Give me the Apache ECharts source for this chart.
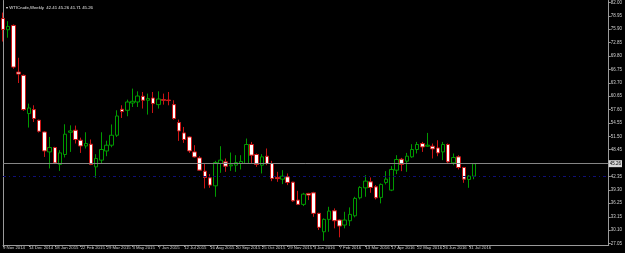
<!DOCTYPE html>
<html>
<head>
<meta charset="utf-8">
<script src="https://cdn.jsdelivr.net/npm/echarts@6/dist/echarts.min.js"></script>
<style>
  html, body { margin: 0; padding: 0; background: #000; }
  #chart { width: 625px; height: 253px; }
</style>
</head>
<body>
<div id="chart"></div>
<script>
// weekly bars, first one is the week of 9 Nov 2014
const opens = [78.36, 75.79, 76.77, 66.14, 65.39, 56.68, 57.58, 55.16, 52.49, 47.94,
  48.94, 45.08, 47.35, 52.42, 52.88, 50.60, 49.30, 49.70, 44.53, 46.06,
  48.15, 49.47, 51.74, 57.66, 57.43, 59.09, 59.32, 60.62, 59.71, 60.23,
  58.72, 59.86, 59.77, 58.72, 54.63, 52.27, 51.35, 47.94, 46.58, 43.55,
  42.03, 40.21, 45.30, 45.67, 44.76, 44.92, 45.30, 45.30, 49.63, 47.35,
  44.92, 46.96, 45.30, 42.12, 41.73, 42.26, 41.05, 36.96, 35.98, 38.48,
  38.61, 33.93, 29.74, 32.56, 34.52, 32.41, 31.27, 32.25, 33.38, 37.48,
  39.75, 41.12, 39.98, 37.57, 40.98, 39.23, 43.78, 46.28, 45.83, 46.81,
  48.49, 49.85, 49.24, 49.24, 48.85, 47.94, 49.63, 45.44, 46.81, 44.39,
  41.66, 42.41];
const closes = [75.86, 76.54, 67.28, 65.69, 57.58, 57.95, 55.54, 52.65, 48.17, 48.94,
  45.44, 47.72, 51.97, 52.72, 50.77, 49.30, 49.85, 45.08, 46.44, 48.49,
  49.47, 51.74, 56.13, 57.13, 59.32, 59.48, 60.68, 59.71, 60.09, 58.95,
  60.00, 59.71, 59.64, 55.54, 52.72, 50.77, 48.17, 46.80, 43.78, 42.12,
  40.37, 45.53, 46.06, 44.69, 44.99, 45.53, 45.76, 49.63, 47.19, 45.08,
  46.81, 45.30, 41.89, 41.85, 42.41, 40.98, 36.79, 35.98, 38.32, 38.09,
  33.93, 30.75, 32.56, 34.45, 32.25, 31.04, 32.41, 33.70, 37.34, 39.84,
  41.28, 39.84, 37.48, 40.53, 41.73, 43.94, 46.21, 45.08, 46.96, 48.49,
  49.63, 49.08, 49.47, 48.63, 47.72, 49.63, 45.67, 46.67, 44.39, 41.73,
  42.41, 45.26];
const lows = [73.10, 73.97, 66.90, 63.64, 57.30, 53.49, 54.77, 52.36, 46.80, 44.17,
  45.30, 43.62, 46.67, 47.94, 49.86, 47.71, 48.72, 44.92, 42.03, 45.30,
  46.96, 49.00, 51.35, 55.68, 56.07, 58.18, 58.18, 57.82, 56.45, 56.81,
  57.82, 58.72, 58.57, 55.31, 50.45, 50.00, 47.71, 46.67, 43.62, 39.62,
  39.75, 37.71, 43.17, 43.40, 43.62, 43.40, 43.94, 45.20, 45.30, 44.53,
  43.03, 44.92, 41.27, 41.12, 40.60, 40.37, 36.57, 35.82, 35.59, 36.96,
  33.15, 30.13, 27.70, 29.74, 30.52, 28.47, 30.52, 31.04, 33.02, 37.11,
  37.71, 38.61, 37.11, 36.21, 40.53, 39.00, 42.87, 43.55, 43.40, 46.58,
  47.58, 47.94, 49.08, 46.44, 46.96, 46.06, 45.44, 44.92, 43.94, 40.89,
  39.75, 41.71];
const highs = [79.70, 77.75, 77.00, 69.40, 65.60, 58.95, 58.57, 55.30, 52.65, 51.35,
  49.10, 48.33, 54.24, 54.00, 53.95, 51.20, 52.42, 50.77, 47.42, 52.42,
  50.49, 54.20, 57.43, 58.57, 59.86, 62.37, 61.75, 61.60, 61.23, 61.60,
  61.75, 61.23, 61.60, 59.70, 55.31, 53.63, 51.50, 49.47, 46.96, 45.30,
  42.87, 45.90, 49.24, 46.44, 47.80, 47.19, 47.19, 50.99, 50.22, 47.58,
  47.42, 48.72, 45.90, 43.40, 43.78, 43.03, 41.12, 39.07, 38.61, 38.61,
  38.84, 34.06, 32.79, 35.43, 35.07, 32.56, 34.29, 35.29, 37.71, 40.14,
  42.64, 42.12, 40.37, 40.76, 43.55, 44.69, 47.19, 46.58, 47.71, 49.70,
  50.22, 50.22, 52.27, 49.85, 50.60, 50.22, 49.85, 47.58, 47.19, 44.53,
  42.64, 45.26];

const dateLabels = ['9 Nov 2014', '14 Dec 2014', '18 Jan 2015', '22 Feb 2015', '29 Mar 2015',
  '3 May 2015', '7 Jun 2015', '12 Jul 2015', '16 Aug 2015', '20 Sep 2015', '25 Oct 2015',
  '29 Nov 2015', '3 Jan 2016', '7 Feb 2016', '13 Mar 2016', '17 Apr 2016', '22 May 2016',
  '26 Jun 2016', '31 Jul 2016'];
const priceLabels = [82.00, 78.95, 75.90, 72.85, 69.80, 66.75, 63.70, 60.65, 57.60, 54.55,
  51.50, 48.45, 42.35, 39.30, 36.25, 33.15, 30.10, 27.05];

const currentPrice = 45.26;
const levelLine = 42.5;
const slots = 118; // bars plus the empty shift area on the right

const categories = [];
for (let i = 0; i < slots; i++) categories.push(String(i));
const candles = opens.map((o, i) => [o, closes[i], lows[i], highs[i]]);
const firstSlot = categories[0];
const lastSlot = categories[slots - 1];

const showDate = (i) => i % 5 === 0 && i / 5 < dateLabels.length;
const font = 'Liberation Sans';

const myChart = echarts.init(document.getElementById('chart'));
const option = {
  backgroundColor: '#000',
  animation: false,
  title: {
    text: '\u25BE WTICrude,Weekly  42.41 45.26 41.71 45.26',
    left: 1,
    top: 1,
    textStyle: { color: '#e8e8e8', fontSize: 4.3, fontWeight: 'normal', fontFamily: font }
  },
  grid: { left: 1, right: 15, top: 0, bottom: 8 },
  xAxis: {
    type: 'category',
    data: categories,
    boundaryGap: false,
    axisLine: { lineStyle: { color: '#9a9a9a', width: 1 } },
    axisTick: { show: true, length: 2, interval: showDate, lineStyle: { color: '#9a9a9a' } },
    axisLabel: {
      interval: showDate,
      formatter: (v, i) => (showDate(i) ? dateLabels[i / 5] : ''),
      align: 'left',
      margin: 1,
      color: '#d0d0d0',
      fontSize: 4.3,
      fontFamily: font
    },
    splitLine: { show: false }
  },
  yAxis: [
    {
      type: 'value',
      position: 'right',
      min: 26.72,
      max: 82.46,
      axisLine: { show: true, lineStyle: { color: '#9a9a9a', width: 1 } },
      axisTick: { show: true, length: 2, customValues: priceLabels, lineStyle: { color: '#9a9a9a' } },
      axisLabel: {
        customValues: priceLabels,
        formatter: (v) => v.toFixed(2),
        margin: 2,
        color: '#d0d0d0',
        fontSize: 4.5,
        fontFamily: font
      },
      splitLine: { show: false }
    },
    {
      type: 'value',
      position: 'left',
      min: 26.72,
      max: 82.46,
      axisLine: { show: true, lineStyle: { color: '#9a9a9a', width: 1 } },
      axisTick: { show: false },
      axisLabel: { show: false },
      splitLine: { show: false }
    }
  ],
  series: [
    {
      name: 'WTICrude',
      type: 'candlestick',
      data: candles,
      barWidth: 4,
      itemStyle: {
        color: '#000',
        color0: '#ffffff',
        borderColor: '#009a00',
        borderColor0: '#cc1414',
        borderWidth: 1
      },
      markLine: {
        silent: true,
        symbol: ['none', 'none'],
        data: [
          [
            {
              coord: [firstSlot, currentPrice],
              lineStyle: { color: '#858585', type: 'solid', width: 1 },
              label: {
                show: true,
                position: 'end',
                distance: 0,
                formatter: currentPrice.toFixed(2),
                backgroundColor: '#d8d8d8',
                color: '#000',
                fontSize: 4.5,
                fontFamily: font,
                padding: [1, 1]
              }
            },
            { coord: [lastSlot, currentPrice] }
          ],
          [
            {
              coord: [firstSlot, levelLine],
              lineStyle: { color: '#101078', type: [3, 3, 1, 3], width: 1 },
              label: { show: false }
            },
            { coord: [lastSlot, levelLine] }
          ]
        ]
      }
    }
  ]
};
myChart.setOption(option);
</script>
</body>
</html>
